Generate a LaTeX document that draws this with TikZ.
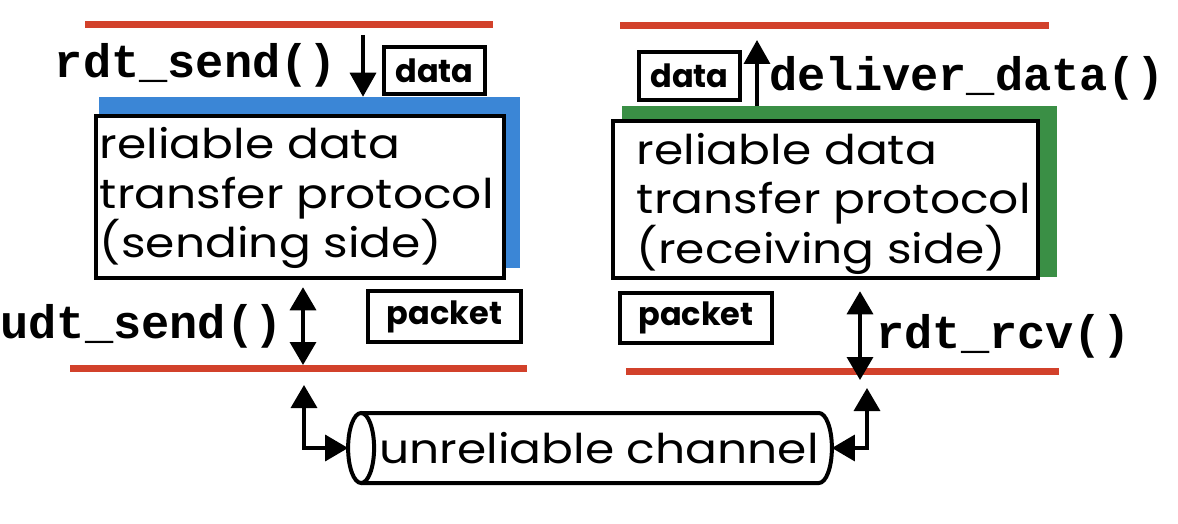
\documentclass[tikz,border=0pt]{standalone}
\usepackage{fontspec}
\setmainfont[FakeStretch=1.15]{Poppins}
\newfontfamily\tagfont{Poppins}
\newfontfamily\courfont{Liberation Mono}
\usepackage{tikz}
\usetikzlibrary{arrows.meta,positioning,backgrounds}
\definecolor{railred}{HTML}{D2412B}
\definecolor{bluex}{HTML}{3B86D6}
\definecolor{greenx}{HTML}{3A8F45}
\tikzset{
  ar/.style={-{Triangle[length=24pt,width=26pt]},line width=3.5pt},
  dar/.style={{Triangle[length=23pt,width=26pt]}-{Triangle[length=23pt,width=26pt]},line width=3.5pt},
  rail/.style={railred,line width=7pt},
  proto/.style={draw,line width=4.5pt,fill=white,inner sep=0pt},
  ptxt/.style={align=left,anchor=west,inner sep=0pt,font=\fontsize{41}{49.5}\selectfont},
  tag/.style={draw,line width=4pt,inner sep=0pt,font=\tagfont\bfseries\fontsize{32}{32}\selectfont},
  fn/.style={anchor=base,inner sep=0pt,font=\courfont\bfseries\fontsize{47}{47}\selectfont},
  cyl/.style={line width=4pt}
}

\begin{document}
\begin{tikzpicture}[x=1pt,y=-1pt]
\useasboundingbox (0,0) rectangle (1178,524);
% rails
\draw[rail] (85,25) -- (493,25);
\draw[rail] (70,368) -- (527,368);
\draw[rail] (620,26) -- (1049,26);
\draw[rail] (626,371) -- (1059,371);
% sending side
\node[proto,minimum width=408,minimum height=162] (snd) at (300,197) {};
\begin{scope}[on background layer]
\fill[bluex] ([xshift=5pt,yshift=12pt]snd.south west) rectangle ([xshift=14pt,yshift=17pt]snd.north east);
\end{scope}
\node[ptxt] (sndtxt) at ([xshift=6pt,yshift=-1pt]snd.west) {reliable data\\transfer protocol\\(sending side)};
\node[tag,minimum width=101,minimum height=47] (sdata) at (434.5,70.5) {data};
\node[tag,minimum width=153,minimum height=51] (spkt) at (444.5,316.5) {packet};
\node[fn] (rsend) at (196,78) {rdt\_send()};
\node[fn] (usend) at (141.5,338) {udt\_send()};
\coordinate (sin) at (363,35);
\coordinate (sndtop) at ([yshift=17pt]snd.north);
\draw[ar] (sin) -- (sin |- sndtop);
\coordinate (lrail) at (303,365);
\draw[dar] ([yshift=-7pt]lrail |- snd.south) -- (lrail);
% receiving side
\node[proto,minimum width=425,minimum height=157] (rcv) at (825.5,199.5) {};
\begin{scope}[on background layer]
\fill[greenx] ([xshift=11pt,yshift=3pt]rcv.south west) rectangle ([xshift=17pt,yshift=13pt]rcv.north east);
\end{scope}
\node[ptxt] (rcvtxt) at ([xshift=26pt,yshift=-4pt]rcv.west) {reliable data\\transfer protocol\\(receiving side)};
\node[tag,minimum width=101,minimum height=48] (rdata) at (689.5,76) {data};
\node[tag,minimum width=152,minimum height=50] (rpkt) at (696,318) {packet};
\node[fn] (deliv) at (967,91) {deliver\_data()};
\node[fn] (rrcv) at (1003.5,348) {rdt\_rcv()};
\coordinate (rout) at (757,40);
\coordinate (rcvtop) at ([yshift=13pt]rcv.north);
\draw[ar] (rout |- rcvtop) -- (rout);
\coordinate (rrail) at (860,380);
\draw[dar] ([yshift=-11pt]rrail |- rcv.south) -- (rrail);
% channel
\node[minimum width=438,minimum height=70,inner sep=0pt,font=\fontsize{41}{41}\selectfont] (chan) at (599,448) {unreliable channel};
\coordinate (cl) at ([xshift=-18pt]chan.west);
\draw[cyl] (cl) ellipse [x radius=13pt,y radius=35pt];
\draw[cyl] ([yshift=35pt]cl) -- ([yshift=35pt]chan.east) arc[start angle=90,end angle=-90,x radius=13pt,y radius=35pt] -- ([yshift=-35pt]cl);
\coordinate (lchan) at (304,385);
\coordinate (rchan) at (867,388);
\draw[dar] (lchan) |- ([xshift=-13pt]cl);
\draw[dar] (rchan) |- ([xshift=13pt]chan.east);
\end{tikzpicture}
\end{document}
